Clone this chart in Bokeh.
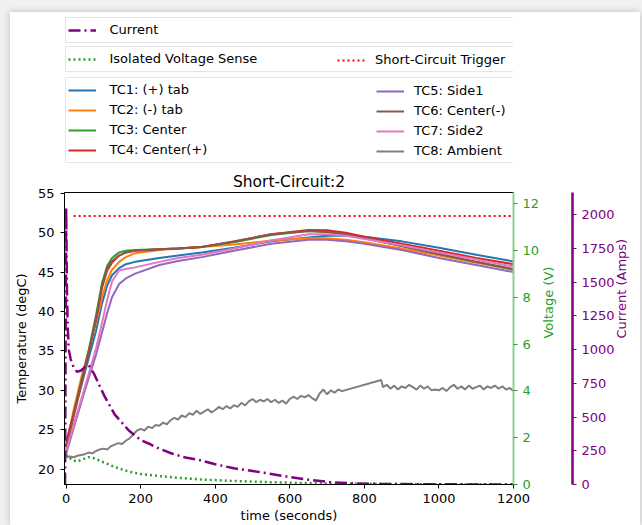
import math

from bokeh.embed import file_html
from bokeh.layouts import column
from bokeh.models import FixedTicker, Legend, LegendItem, LinearAxis, Range1d
from bokeh.plotting import figure
from bokeh.resources import INLINE

FONT = "DejaVu Sans"

# ---- thermocouple readings (degC) on a shared time base (s) ----
tc_time = [0, 20, 40, 60, 80, 96, 110, 123, 142, 160, 185, 250, 300, 364,
           450, 550, 650, 700, 750, 800, 900, 1000, 1100, 1200]
tc1_pos_tab = [23.5, 27.0, 30.5, 34.0, 37.5, 41.0, 43.3, 44.6, 45.5, 46.0, 46.3, 46.8,
               47.1, 47.5, 48.1, 48.9, 49.4, 49.6, 49.6, 49.5, 48.9, 48.1, 47.2, 46.35]
tc2_neg_tab = [23.0, 27.5, 31.5, 35.0, 38.5, 41.8, 44.0, 45.3, 46.3, 46.9, 47.4, 47.8,
               48.0, 48.2, 48.5, 49.0, 49.3, 49.3, 49.1, 48.8, 48.0, 47.1, 46.2, 45.3]
tc3_center = [22.8, 27.0, 31.0, 35.0, 39.5, 43.6, 45.8, 46.8, 47.5, 47.7, 47.8, 47.9,
              48.0, 48.2, 48.8, 49.7, 50.2, 50.1, 49.8, 49.3, 48.3, 47.3, 46.3, 45.3]
tc4_center_pos = [23.2, 27.0, 30.8, 34.8, 39.0, 43.0, 45.2, 46.2, 47.1, 47.5, 47.7, 47.9,
                  48.0, 48.2, 48.9, 49.8, 50.35, 50.3, 50.0, 49.5, 48.6, 47.7, 46.8, 46.0]
tc5_side1 = [22.0, 25.2, 28.4, 31.5, 34.5, 37.3, 39.8, 41.8, 43.5, 44.2, 44.8, 45.9,
             46.4, 46.9, 47.7, 48.6, 49.1, 49.1, 48.9, 48.6, 47.8, 46.8, 45.9, 45.0]
tc6_center_neg = [22.5, 26.6, 30.6, 34.7, 39.0, 43.2, 45.5, 46.4, 47.1, 47.5, 47.75, 47.9,
                  48.0, 48.2, 48.9, 49.8, 50.2, 50.1, 49.8, 49.3, 48.3, 47.3, 46.3, 45.4]
tc7_side2 = [22.3, 25.6, 28.8, 32.0, 35.3, 38.5, 41.5, 43.8, 45.2, 45.4, 45.6, 46.3,
             46.8, 47.2, 48.0, 49.0, 49.8, 49.8, 49.6, 49.2, 48.4, 47.5, 46.6, 45.7]

# ambient thermocouple (logged separately, with a gap in the record)
ambient_time = [0, 10, 20, 30, 40, 50, 60, 70, 80, 90, 100, 110, 120, 130, 140, 150,
                160, 170, 180, 190, 200, 210, 220, 230, 240, 250, 260, 270, 280, 290,
                300, 310, 320, 330, 340, 350, 360, 370, 380, 390, 400, 410, 420, 430,
                440, 450, 460, 470, 480, 490, 500, 510, 520, 530, 540, 550, 560, 570,
                580, 590, 600, 610, 620, 630, 640, 650, 660, 670, 680, 690, 700, 710,
                720, 730, 740, 845, 850, 860, 870, 880, 890, 900, 910, 920, 930, 940,
                950, 960, 970, 980, 990, 1000, 1010, 1020, 1030, 1040, 1050, 1060, 1070,
                1080, 1090, 1100, 1110, 1120, 1130, 1140, 1150, 1160, 1170, 1180, 1190, 1200]
ambient_temp = [21.5, 21.6, 21.5, 21.7, 21.8, 21.9, 22.1, 22.0, 22.3, 22.5, 22.6, 22.5,
                22.9, 23.1, 23.3, 23.2, 23.6, 23.9, 24.4, 24.9, 25.1, 24.9, 25.4, 25.2,
                25.6, 25.5, 25.9, 25.7, 26.2, 26.5, 26.3, 26.8, 26.6, 27.1, 26.9, 27.4,
                27.0, 27.3, 27.6, 27.2, 27.5, 27.9, 27.6, 28.0, 27.7, 28.1, 27.9, 28.4,
                28.1, 28.6, 28.9, 28.5, 28.8, 28.6, 28.9, 28.5, 28.8, 28.4, 28.7, 28.3,
                28.9, 29.2, 28.9, 29.3, 29.1, 29.4, 29.0, 28.7, 29.6, 30.1, 29.5, 30.0,
                29.7, 30.1, 29.9, 31.3, 30.4, 30.7, 30.2, 30.6, 30.1, 30.5, 30.3, 30.7,
                30.4, 30.1, 30.6, 30.2, 30.5, 30.0, 30.1, 30.0, 30.3, 29.9, 30.4, 30.7,
                30.2, 30.5, 30.1, 30.6, 30.2, 30.4, 30.6, 30.1, 30.5, 30.3, 30.6, 30.2,
                30.5, 30.1, 30.3, 29.9]

# short-circuit current (A)
current_time = [-3, 0, 1, 2, 4, 7, 12, 20, 29, 40, 50, 61, 75, 90, 104, 130, 168, 200,
                221, 250, 283, 320, 355, 400, 450, 500, 542, 600, 650, 711, 780, 850,
                950, 1050, 1200]
current_amps = [0, 2050, 1750, 1450, 1180, 1000, 930, 870, 835, 845, 870, 883, 820, 730,
                648, 520, 400, 330, 304, 265, 230, 200, 183, 150, 120, 100, 82, 55, 35,
                17, 8, 4, 2, 1, 0]

# isolated cell voltage sense (V)
voltage_time = [0, 5, 15, 30, 45, 60, 75, 100, 130, 168, 200, 250, 283, 355, 450, 542,
                650, 711, 800, 900, 1000, 1100, 1200]
voltage_volts = [1.28, 1.2, 1.05, 0.98, 1.08, 1.17, 1.12, 0.95, 0.75, 0.55, 0.45, 0.36,
                 0.31, 0.22, 0.15, 0.1, 0.06, 0.04, 0.03, 0.02, 0.01, 0.01, 0.0]

# short-circuit trigger signal (V)
trigger_time = [20, 1200]
trigger_volts = [11.48, 11.48]

x_ticks = [0, 200, 400, 600, 800, 1000, 1200]
temp_ticks = [20, 25, 30, 35, 40, 45, 50, 55]
volt_ticks = [0, 2, 4, 6, 8, 10, 12]
amp_ticks = [0, 250, 500, 750, 1000, 1250, 1500, 1750, 2000]

TC_COLORS = {
    "TC1: (+) tab": "#1f77b4", "TC2: (-) tab": "#ff7f0e", "TC3: Center": "#2ca02c",
    "TC4: Center(+)": "#d62728", "TC5: Side1": "#9467bd", "TC6: Center(-)": "#8c564b",
    "TC7: Side2": "#e377c2", "TC8: Ambient": "#7f7f7f",
}
VOLT_GREEN = "#2ca02c"
CUR_PURPLE = "#800080"
TRIG_RED = "#ff0000"
VOLT_STYLE = dict(line_color=VOLT_GREEN, line_width=2.5, line_dash="2 3")
TRIG_STYLE = dict(line_color=TRIG_RED, line_width=2, line_dash="2 3")
CUR_STYLE = dict(line_color=CUR_PURPLE, line_width=2.5, line_dash="12 4 2 4")

# ================= main chart =================
p = figure(width=630, height=357,
           x_range=Range1d(-4.5, 1200), y_range=Range1d(18.05, 55.1),
           min_border_left=52, min_border_right=127, min_border_top=24,
           min_border_bottom=41, output_backend="svg", toolbar_location=None,
           title="Short-Circuit:2")
p.extra_y_ranges = {"volt": Range1d(0, 12.48), "amp": Range1d(0, 2165)}

p.title.align = "center"
p.title.text_font = FONT
p.title.text_font_size = "15.5px"
p.title.text_font_style = "normal"
p.title.text_color = "black"
p.title.standoff = 4

p.xgrid.visible = False
p.ygrid.visible = False
p.outline_line_color = "black"
p.outline_line_width = 1

for ax in (p.xaxis[0], p.yaxis[0]):
    ax.major_tick_in = 0
    ax.major_tick_out = 4
    ax.minor_tick_line_color = None
    ax.major_label_text_font = FONT
    ax.major_label_text_font_size = "13px"
    ax.major_label_text_color = "black"
    ax.axis_label_text_font = FONT
    ax.axis_label_text_font_size = "13px"
    ax.axis_label_text_font_style = "normal"
    ax.axis_label_text_color = "black"
    ax.axis_line_color = "black"
    ax.major_tick_line_color = "black"

p.xaxis.ticker = FixedTicker(ticks=x_ticks)
p.xaxis.axis_label = "time (seconds)"
p.xaxis.axis_label_standoff = 2
p.yaxis.ticker = FixedTicker(ticks=temp_ticks)
p.yaxis.axis_label = "Temperature (degC)"
p.yaxis.major_label_standoff = 6
p.yaxis.axis_label_standoff = 6

volt_axis = LinearAxis(y_range_name="volt", ticker=FixedTicker(ticks=volt_ticks),
                       axis_label="Voltage (V)")
amp_axis = LinearAxis(y_range_name="amp", ticker=FixedTicker(ticks=amp_ticks),
                      axis_label="Current (Amps)")
for ax, col, line_col, lw in ((volt_axis, VOLT_GREEN, "#92cf92", 2),
                              (amp_axis, CUR_PURPLE, CUR_PURPLE, 2.5)):
    ax.major_tick_in = 0
    ax.major_tick_out = 4
    ax.minor_tick_line_color = None
    ax.major_tick_line_color = col
    ax.major_label_text_color = col
    ax.major_label_text_font = FONT
    ax.major_label_text_font_size = "13px"
    ax.major_label_standoff = 5
    ax.axis_label_text_color = col
    ax.axis_label_text_font = FONT
    ax.axis_label_text_font_size = "13px"
    ax.axis_label_text_font_style = "normal"
    ax.axis_label_orientation = math.pi / 2
    ax.axis_line_color = line_col
    ax.axis_line_width = lw
volt_axis.axis_label_standoff = 6
amp_axis.axis_label_standoff = 4

# blank axis that only opens a gap between the voltage and current scales
gap_axis = LinearAxis(y_range_name="volt", ticker=FixedTicker(ticks=[6]),
                      major_label_overrides={6: ""}, major_label_standoff=0,
                      major_tick_out=6, major_tick_in=0, axis_line_color=None,
                      major_tick_line_color="white", minor_tick_line_color=None)

p.add_layout(volt_axis, "right")
p.add_layout(gap_axis, "right")
p.add_layout(amp_axis, "right")

for name, vals in (("TC1: (+) tab", tc1_pos_tab), ("TC2: (-) tab", tc2_neg_tab),
                   ("TC3: Center", tc3_center), ("TC4: Center(+)", tc4_center_pos),
                   ("TC5: Side1", tc5_side1), ("TC6: Center(-)", tc6_center_neg),
                   ("TC7: Side2", tc7_side2)):
    p.line(tc_time, vals, line_color=TC_COLORS[name], line_width=2)
p.line(ambient_time, ambient_temp, line_color=TC_COLORS["TC8: Ambient"], line_width=2)

p.line(voltage_time, voltage_volts, y_range_name="volt", **VOLT_STYLE)
p.line(trigger_time, trigger_volts, y_range_name="volt", **TRIG_STYLE)
p.line(current_time, current_amps, y_range_name="amp", **CUR_STYLE)

# ================= legend strip above the chart =================
lg = figure(width=630, height=156, x_range=Range1d(0, 1), y_range=Range1d(0, 1),
            x_axis_type=None, y_axis_type=None, min_border=0, outline_line_color=None,
            output_backend="svg", toolbar_location=None)
lg.grid.visible = False

# line-style keys for the legends, parked outside the visible range
off = ([2, 3], [2, 3])
key = {name: lg.line(*off, line_color=col, line_width=2) for name, col in TC_COLORS.items()}
key["Current"] = lg.line(*off, **CUR_STYLE)
key["Isolated Voltage Sense"] = lg.line(*off, **VOLT_STYLE)
key["Short-Circuit Trigger"] = lg.line(*off, **TRIG_STYLE)


def make_legend(labels, x, y, framed, label_width=0, standoff=14):
    leg = Legend(items=[LegendItem(label=lab, renderers=[key[lab]]) for lab in labels],
                 location=(x, y), orientation="vertical", margin=0, padding=2,
                 spacing=0, glyph_width=28, glyph_height=20, label_height=20,
                 label_width=label_width, label_standoff=standoff,
                 label_text_font=FONT, label_text_font_size="13px",
                 label_text_color="black")
    if framed:
        leg.border_line_color = "#cccccc"
        leg.border_line_width = 1
        leg.background_fill_color = "white"
        leg.background_fill_alpha = 1
    else:
        leg.border_line_alpha = 0
        leg.background_fill_alpha = 0
    return leg


# three stacked boxes, each as wide as the chart frame
full_label = 447 - 4 - 28 - 14
for leg in (
    make_legend(["Current"], 0.5, 125.5, True, full_label),
    make_legend(["Isolated Voltage Sense"], 0.5, 96.3, True, full_label),
    make_legend(["Short-Circuit Trigger"], 271, 96.3, False, 0, 10),
    make_legend(["TC1: (+) tab", "TC2: (-) tab", "TC3: Center", "TC4: Center(+)"],
                0.5, 5.3, True, full_label),
    make_legend(["TC5: Side1", "TC6: Center(-)", "TC7: Side2", "TC8: Ambient"],
                310, 5.3, False, 0, 10),
):
    lg.add_layout(leg)

card = column(lg, p, margin=(12, 2, 0, 10),
              styles={"background-color": "white",
                      "box-shadow": "0 0 7px rgba(0, 0, 0, 0.22)"})
root = column(card, width=642, height=525, styles={"background-color": "#f1f1f1"})

open("out.html", "w").write(file_html(root, INLINE))
